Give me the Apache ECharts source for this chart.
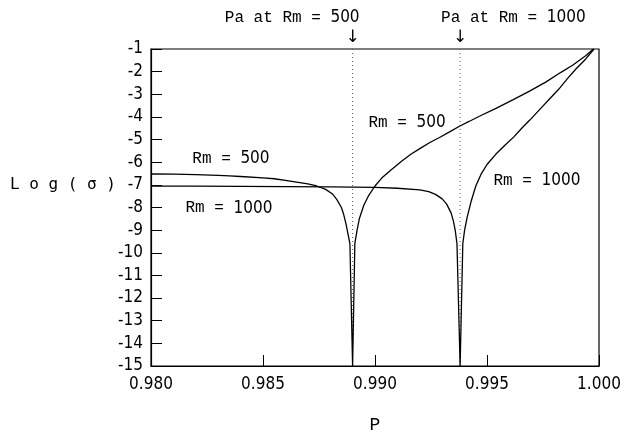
<!DOCTYPE html>
<html>
<head>
<meta charset="utf-8">
<script src="https://cdn.jsdelivr.net/npm/echarts@6/dist/echarts.min.js"></script>
<style>
  html, body { margin: 0; padding: 0; background: #fff; }
  #chart { width: 640px; height: 441px; }
</style>
</head>
<body>
<div id="chart"></div>
<script>
// Log of sigma versus P for two values of Rm
const rm500 = [
  [0.9800, -6.52], [0.9810, -6.53], [0.9820, -6.55], [0.9830, -6.58], [0.9835, -6.60],
  [0.9840, -6.63], [0.9850, -6.69], [0.9855, -6.73], [0.9860, -6.80], [0.9865, -6.88],
  [0.9870, -6.96], [0.9874, -7.05], [0.9878, -7.20], [0.9881, -7.40], [0.9883, -7.65],
  [0.9885, -8.00], [0.9886, -8.30], [0.9887, -8.70], [0.9888, -9.20], [0.98888, -9.60],
  [0.9890, -15.0], [0.9891, -9.60], [0.9892, -9.00], [0.9893, -8.50], [0.9895, -7.90],
  [0.9897, -7.50], [0.9900, -7.05], [0.9903, -6.70], [0.9907, -6.35], [0.9912, -5.95],
  [0.9916, -5.65], [0.9920, -5.40], [0.99245, -5.13], [0.99288, -4.91], [0.99335, -4.65],
  [0.99377, -4.41], [0.9942, -4.20], [0.99466, -3.97], [0.9954, -3.62], [0.99615, -3.25],
  [0.9969, -2.86], [0.99764, -2.45], [0.9983, -2.03], [0.99882, -1.72], [0.99942, -1.29],
  [0.99975, -1.00]
];
const rm1000 = [
  [0.9800, -7.06], [0.9820, -7.06], [0.9840, -7.07], [0.9860, -7.08], [0.9880, -7.09],
  [0.9900, -7.11], [0.9910, -7.15], [0.9920, -7.22], [0.9924, -7.30], [0.9927, -7.42],
  [0.9930, -7.62], [0.9932, -7.85], [0.9934, -8.25], [0.9935, -8.60], [0.99358, -9.00],
  [0.99366, -9.60], [0.9938, -15.0], [0.99392, -9.60], [0.9940, -9.00], [0.99412, -8.40],
  [0.9943, -7.70], [0.9945, -7.05], [0.99475, -6.50], [0.9950, -6.10], [0.9954, -5.64],
  [0.9958, -5.25], [0.9962, -4.88], [0.99655, -4.50], [0.9969, -4.15], [0.9974, -3.62],
  [0.9978, -3.20], [0.9982, -2.78], [0.9986, -2.30], [0.9990, -1.85], [0.9994, -1.45],
  [0.99978, -1.00]
];
// Pa positions for each Rm
const paValues = [0.9890, 0.9938];
const paTitles = ['Pa at Rm = 500', 'Pa at Rm = 1000'];
// curve captions: text and anchor in data units
const curveCaptions = [
  { text: 'Rm = 500', at: [0.98357, -5.86] },
  { text: 'Rm = 1000', at: [0.98348, -8.03] },
  { text: 'Rm = 500', at: [0.99143, -4.26] },
  { text: 'Rm = 1000', at: [0.99723, -6.80] }
];
const xMin = 0.98, xMax = 1.0, xStep = 0.005;
const yMin = -15, yMax = -1, yStep = 1;

const numFont = '"DejaVu Sans Condensed", "Liberation Sans Narrow", "DejaVu Sans", sans-serif';
const letterFont = '"Liberation Mono", "DejaVu Sans Mono", monospace';

const chart = echarts.init(document.getElementById('chart'), null, { renderer: 'canvas' });

function rich(size) {
  return {
    t: { fontFamily: letterFont, fontSize: size, color: '#000' },
    n: { fontFamily: numFont, fontSize: size + 1, color: '#000' }
  };
}
function richText(s) {
  const m = s.match(/^(.*?)(\d+)$/);
  return '{t|' + m[1] + '}{n|' + m[2] + '}';
}

const series = [
  {
    type: 'line', data: rm500, showSymbol: false, smooth: false,
    lineStyle: { color: '#000', width: 1.3 }, z: 3, silent: true
  },
  {
    type: 'line', data: rm1000, showSymbol: false, smooth: false,
    lineStyle: { color: '#000', width: 1.3 }, z: 3, silent: true
  }
];
paValues.forEach(p => {
  series.push({
    type: 'line', data: [[p, yMax], [p, yMin]], showSymbol: false, silent: true,
    lineStyle: { color: '#555', width: 1, type: [1, 3] }, z: 2
  });
});

chart.setOption({
  animation: false,
  backgroundColor: '#fff',
  grid: { left: 151, right: 41, top: 49, bottom: 75, show: true, borderColor: '#000', borderWidth: 1.2 },
  xAxis: {
    type: 'value', min: xMin, max: xMax, interval: xStep,
    name: 'P', nameLocation: 'middle', nameGap: 50,
    nameTextStyle: { fontFamily: letterFont, fontSize: 18, color: '#000' },
    axisLine: { show: true, onZero: false, lineStyle: { color: '#000', width: 1.2 } },
    axisTick: { show: true, inside: true, length: 11, lineStyle: { color: '#000' } },
    splitLine: { show: false },
    axisLabel: {
      margin: 10, color: '#000', fontFamily: numFont, fontSize: 17,
      formatter: v => v.toFixed(3)
    }
  },
  yAxis: {
    type: 'value', min: yMin, max: yMax, interval: yStep,
    axisLine: { show: true, onZero: false, lineStyle: { color: '#000', width: 1.2 } },
    axisTick: { show: true, inside: true, length: 11, lineStyle: { color: '#000' } },
    splitLine: { show: false },
    axisLabel: {
      margin: 8, color: '#000', fontFamily: numFont, fontSize: 17,
      formatter: v => String(v)
    }
  },
  series: series
});

// text placed from data anchors
const graphics = [];
paValues.forEach((p, i) => {
  const [px, py] = chart.convertToPixel({ seriesIndex: 0 }, [p, yMax]);
  graphics.push({
    type: 'text', x: px, y: py - 3,
    style: { text: '↓', font: '17px "DejaVu Sans"', fill: '#000', align: 'center', verticalAlign: 'bottom' }
  });
  graphics.push({
    type: 'text', x: i === 0 ? px + 7 : px - 19, y: 18,
    style: {
      text: richText(paTitles[i]), rich: rich(16),
      align: i === 0 ? 'right' : 'left', verticalAlign: 'middle'
    }
  });
});
curveCaptions.forEach(c => {
  const [px, py] = chart.convertToPixel({ seriesIndex: 0 }, c.at);
  graphics.push({
    type: 'text', x: px, y: py,
    style: { text: richText(c.text), rich: rich(16), align: 'center', verticalAlign: 'middle' }
  });
});
{
  const [, py] = chart.convertToPixel({ seriesIndex: 0 }, [xMin, -7]);
  graphics.push({
    type: 'text', x: 10, y: py,
    style: { text: 'L o g ( σ )', font: '16px "DejaVu Sans Mono"', fill: '#000', align: 'left', verticalAlign: 'middle' }
  });
}
chart.setOption({ graphic: graphics });
</script>
</body>
</html>
